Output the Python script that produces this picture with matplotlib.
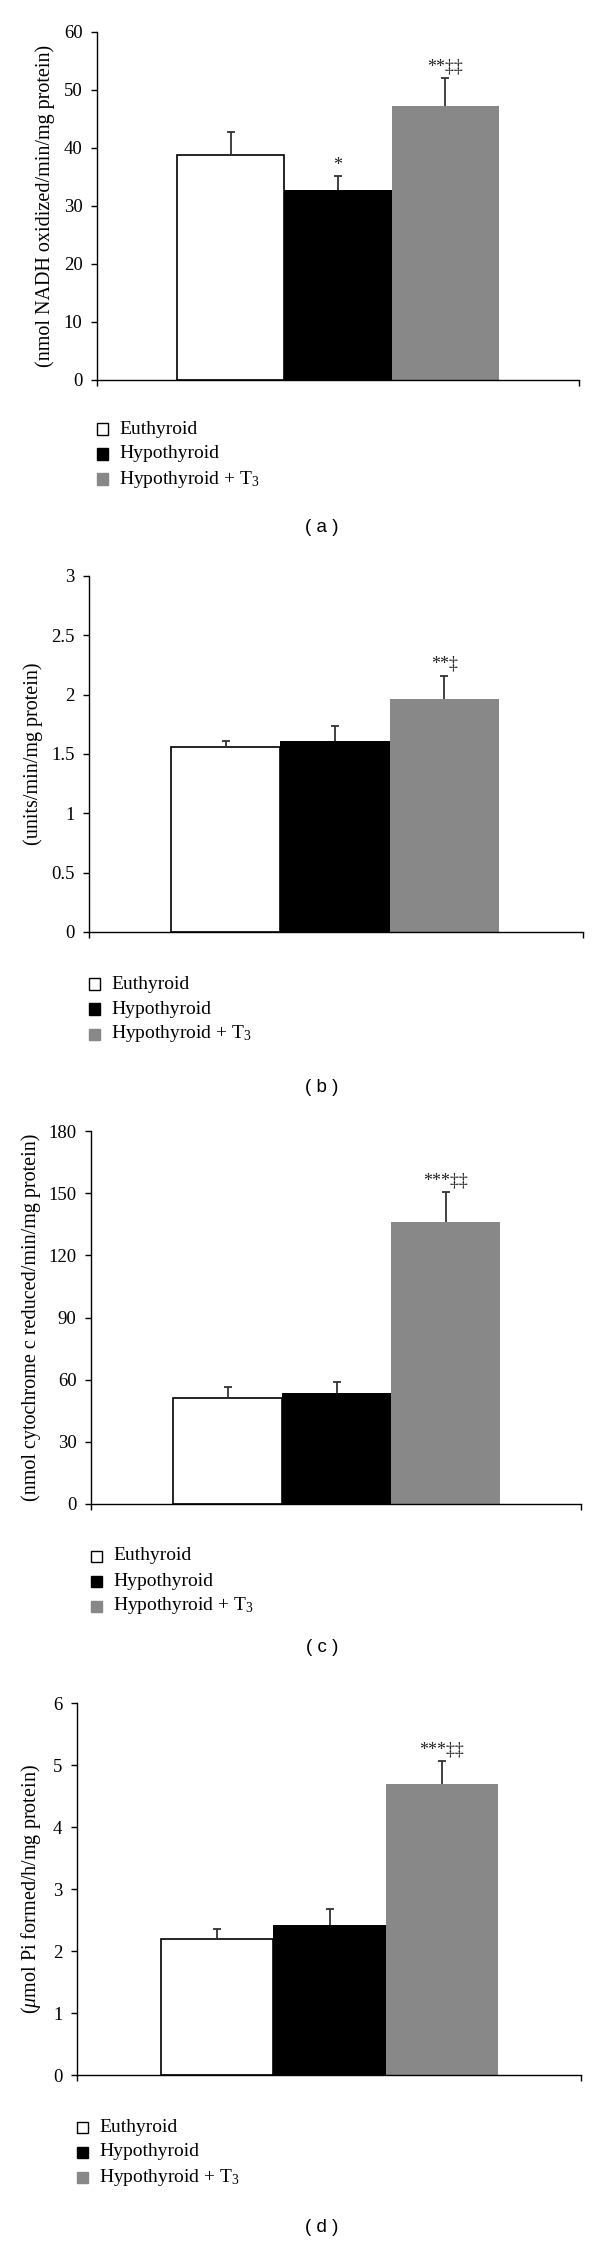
import matplotlib
matplotlib.use("Agg")
import matplotlib.pyplot as plt
from matplotlib.patches import Rectangle
import numpy as np

plt.rcParams['font.family'] = ['Liberation Serif', 'DejaVu Serif']
plt.rcParams['mathtext.fontset'] = 'custom'
plt.rcParams['mathtext.rm'] = 'Liberation Serif'
plt.rcParams['mathtext.it'] = 'Liberation Serif:italic'

# --- data ---
groups = ["Euthyroid", "Hypothyroid", "Hypothyroid + T$_3$"]
colors = ["white", "black", "#888888"]

nadh_mean = [38.8, 32.8, 47.3]
nadh_err = [4.0, 2.3, 4.7]
nadh_sig = ["", "*", "**\u2021\u2021"]

units_mean = [1.56, 1.61, 1.96]
units_err = [0.05, 0.13, 0.20]
units_sig = ["", "", "**\u2021"]

cyt_mean = [51.3, 53.5, 136.0]
cyt_err = [5.1, 5.5, 14.5]
cyt_sig = ["", "", "***\u2021\u2021"]

pi_mean = [2.19, 2.42, 4.70]
pi_err = [0.17, 0.25, 0.36]
pi_sig = ["", "", "***\u2021\u2021"]

W, H = 600, 2242
fig = plt.figure(figsize=(W / 100, H / 100), dpi=100)


def px_rect(left, top, right, bottom):
    return [left / W, 1 - bottom / H, (right - left) / W, (bottom - top) / H]


def panel(box, bar_edges, means, errs, sig, ymax, yticks, ylabel, label_x,
          legend_top, caption, caption_y):
    left, top, right, bottom = box
    ax = fig.add_axes(px_rect(*box))
    bw = (bar_edges[1] - bar_edges[0]) / len(means)
    x = np.arange(len(means))
    lo = -0.5 - (bar_edges[0] - left) / bw
    hi = len(means) - 0.5 + (right - bar_edges[1]) / bw
    ax.bar(x, means, width=1.0, color=colors, edgecolor=["black", "black", "#888888"],
           linewidth=[1.2, 0, 0], zorder=2)
    _, caps, bars = ax.errorbar(x, means, yerr=[np.zeros(len(errs)), errs], fmt='none',
                                ecolor='#333333', elinewidth=1.3, capsize=3, capthick=1.3,
                                zorder=3)
    for c in caps:
        if np.allclose(c.get_ydata(), means):
            c.set_visible(False)
    for i, s in enumerate(sig):
        if s:
            ax.annotate(s, xy=(x[i], means[i] + errs[i]), xytext=(0, 2),
                        textcoords='offset points', ha='center', va='bottom',
                        fontsize=13, color='#222222')
    ax.set_xlim(lo, hi)
    ax.set_ylim(0, ymax)
    ax.set_yticks(yticks)
    ax.set_yticklabels([f"{t:g}" for t in yticks])
    ax.set_xticks([lo, hi])
    ax.set_xticklabels([])
    for sp in ['top', 'right']:
        ax.spines[sp].set_visible(False)
    for sp in ['left', 'bottom']:
        ax.spines[sp].set_linewidth(1.0)
    ax.tick_params(axis='both', direction='out', length=4.5, width=1.0,
                   labelsize=13.5, pad=6)
    ax.set_ylabel(ylabel, fontsize=14.5, va='center')
    ax.yaxis.set_label_coords((label_x - left) / (right - left), 0.5)

    # legend drawn as squares + text under the axis
    for i, g in enumerate(groups):
        cy = legend_top + i * 25
        fig.patches.append(Rectangle(((left) / W, 1 - (cy + 5.5) / H), 11 / W, 11 / H,
                                     transform=fig.transFigure, facecolor=colors[i],
                                     edgecolor='black' if i == 0 else colors[i],
                                     linewidth=1.0))
        fig.text((left + 22) / W, 1 - cy / H, g, fontsize=14, va='center', ha='left')
    fig.text(322 / W, 1 - caption_y / H, caption, family='Liberation Sans',
             fontsize=13.5, ha='center', va='center')
    return ax


panel((97, 32, 579, 380), (177, 499), nadh_mean, nadh_err, nadh_sig, 60,
      [0, 10, 20, 30, 40, 50, 60], "(nmol NADH oxidized/min/mg protein)", 45,
      429, "( a )", 528)
panel((89, 576, 583, 932), (171, 499), units_mean, units_err, units_sig, 3,
      [0, 0.5, 1, 1.5, 2, 2.5, 3], "(units/min/mg protein)", 33,
      984, "( b )", 1087)
panel((91, 1131, 581, 1504), (173, 500), cyt_mean, cyt_err, cyt_sig, 180,
      [0, 30, 60, 90, 120, 150, 180], "(nmol cytochrome c reduced/min/mg protein)", 31,
      1556, "( c )", 1647)
panel((77, 1703, 581, 2075), (161, 498), pi_mean, pi_err, pi_sig, 6,
      [0, 1, 2, 3, 4, 5, 6], "($\\mu$mol Pi formed/h/mg protein)", 31,
      2127, "( d )", 2228)

fig.savefig("out.png", dpi=100, facecolor='white')
